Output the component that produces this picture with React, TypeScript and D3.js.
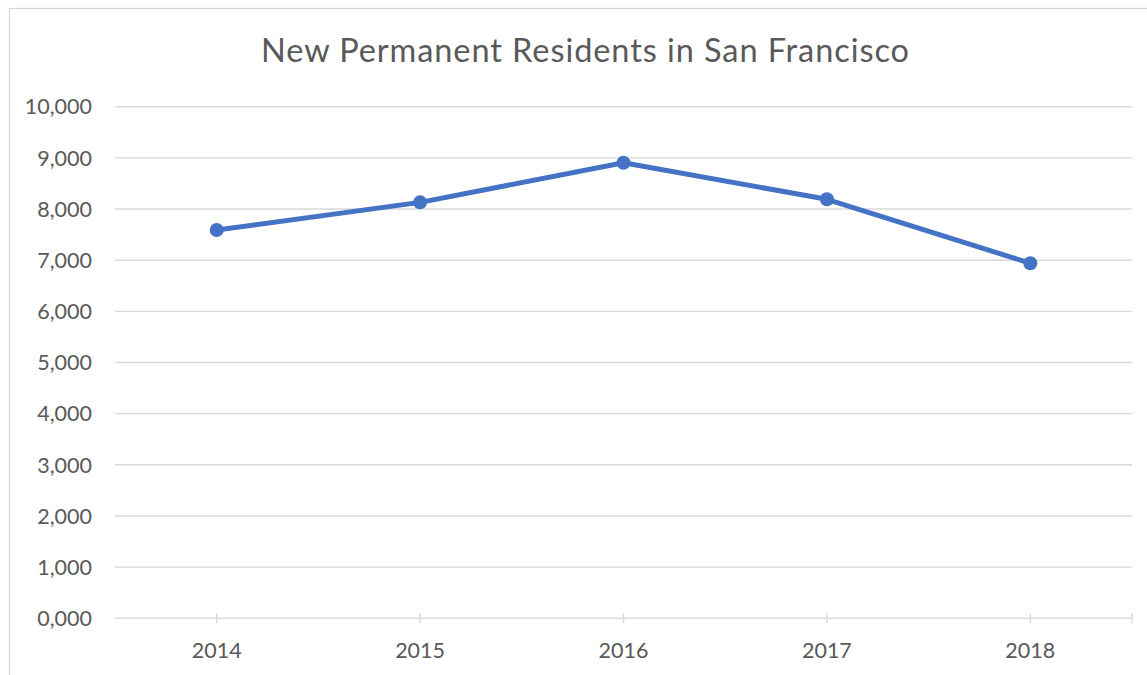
import React from 'react'
import * as d3 from 'd3'

// chart data
const years = ['2014', '2015', '2016', '2017', '2018']
const residents = [7590, 8130, 8905, 8190, 6940]
const yTicks = [0, 1000, 2000, 3000, 4000, 5000, 6000, 7000, 8000, 9000, 10000]
const yTickLabels = ['0,000', '1,000', '2,000', '3,000', '4,000', '5,000', '6,000', '7,000', '8,000', '9,000', '10,000']

const WIDTH = 1147
const HEIGHT = 675
const FONT = 'Lato, "Open Sans", sans-serif'
const TEXT_COLOR = '#595959'
const GRID_COLOR = '#d9d9d9'
const LINE_COLOR = '#4472c4'

const plot = { left: 115, right: 1132, top: 106.7, bottom: 618.3 }

const App = () => {
    const x = d3.scaleBand<string>().domain(years).range([plot.left, plot.right])
    const y = d3.scaleLinear().domain([0, 10000]).range([plot.bottom, plot.top])
    const cx = (year: string) => (x(year) as number) + x.bandwidth() / 2

    const line = d3.line<number>()
        .x((_, i) => cx(years[i]))
        .y((d) => y(d))

    // Excel puts the tick marks on the category centres plus the right end
    const xTickPositions = years.map(cx).concat([plot.right])

    return (
        <svg
            width={WIDTH}
            height={HEIGHT}
            style={{ position: 'absolute', left: 0, top: 0, display: 'block', background: '#fff' }}
            fontFamily={FONT}
        >
            <rect x={9.5} y={8.5} width={WIDTH + 20} height={HEIGHT + 20} fill="#fff" stroke={GRID_COLOR} strokeWidth={1.3} />

            <text x={585} y={62} textAnchor="middle" fontSize={32.5} fill={TEXT_COLOR} textLength={648} lengthAdjust="spacing">
                New Permanent Residents in San Francisco
            </text>

            <g className="grid">
                {yTicks.map((t, i) => (
                    <g key={t}>
                        <line x1={plot.left} x2={plot.right} y1={y(t)} y2={y(t)} stroke={GRID_COLOR} strokeWidth={1.4} />
                        <text x={92} y={y(t)} dy="0.36em" textAnchor="end" fontSize={21.5} fill={TEXT_COLOR}>
                            {yTickLabels[i]}
                        </text>
                    </g>
                ))}
            </g>

            <g className="axis-x">
                {xTickPositions.map((px, i) => (
                    <line key={i} x1={px} x2={px} y1={plot.bottom - 5} y2={plot.bottom + 5} stroke={GRID_COLOR} strokeWidth={1.4} />
                ))}
                {years.map((yr) => (
                    <text key={yr} x={cx(yr)} y={658} textAnchor="middle" fontSize={21.5} fill={TEXT_COLOR}>
                        {yr}
                    </text>
                ))}
            </g>

            <path d={line(residents) as string} fill="none" stroke={LINE_COLOR} strokeWidth={5} strokeLinejoin="round" />
            {residents.map((v, i) => (
                <circle key={i} cx={cx(years[i])} cy={y(v)} r={7} fill={LINE_COLOR} />
            ))}
        </svg>
    )
}

export default App
